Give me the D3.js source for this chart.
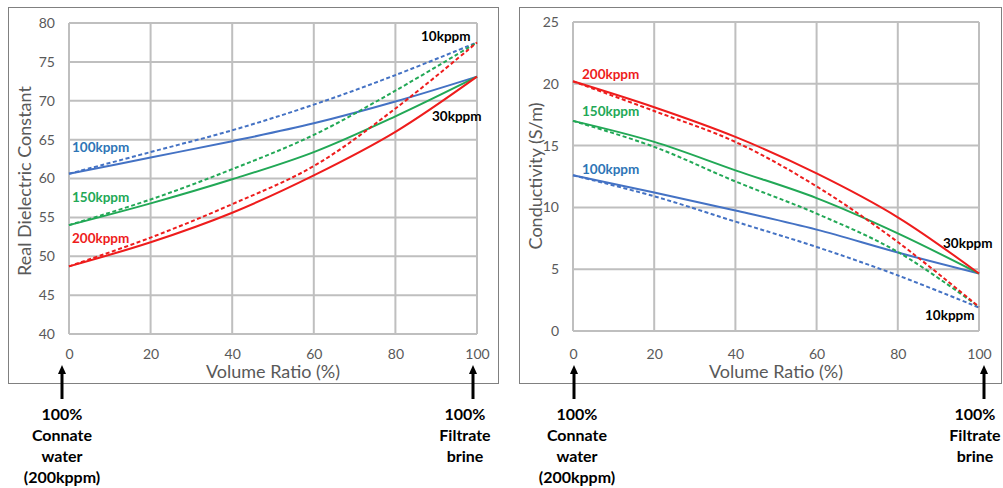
<!DOCTYPE html>
<html><head><meta charset="utf-8">
<script src="https://cdn.jsdelivr.net/npm/d3@7"></script>
<style>body{margin:0;background:#fff}svg{display:block}text{font-family:Lato,"Open Sans",sans-serif}</style>
</head><body><svg id="c" width="1003" height="488"></svg>
<script>
const volumeRatio = [0, 20, 40, 60, 80, 100];
const xTicks = [0, 20, 40, 60, 80, 100];
const dielectricTicks = [40, 45, 50, 55, 60, 65, 70, 75, 80];
const conductivityTicks = [0, 5, 10, 15, 20, 25];
const salinities = ["100kppm", "150kppm", "200kppm"];

// Real dielectric constant: solid -> 30kppm filtrate, dashed -> 10kppm filtrate
const dielectric100_30 = [60.6, 62.7, 64.8, 67.1, 69.9, 73.1];
const dielectric100_10 = [60.6, 63.4, 66.2, 69.5, 73.3, 77.5];
const dielectric150_30 = [54.0, 56.8, 59.9, 63.4, 68.0, 73.1];
const dielectric150_10 = [54.0, 57.3, 61.2, 65.6, 71.3, 77.5];
const dielectric200_30 = [48.7, 51.8, 55.6, 60.4, 66.0, 73.1];
const dielectric200_10 = [48.7, 52.4, 56.7, 61.6, 69.0, 77.5];

// Conductivity (S/m)
const conductivity100_30 = [12.6, 11.2, 9.75, 8.2, 6.35, 4.65];
const conductivity100_10 = [12.6, 10.9, 8.85, 6.8, 4.5, 1.9];
const conductivity150_30 = [17.0, 15.3, 13.0, 10.75, 7.9, 4.65];
const conductivity150_10 = [17.0, 14.9, 12.1, 9.5, 6.4, 1.95];
const conductivity200_30 = [20.2, 18.1, 15.7, 12.75, 9.2, 4.65];
const conductivity200_10 = [20.2, 17.8, 15.3, 11.7, 7.2, 1.95];

const lineColors = {"100kppm": "#4472C4", "150kppm": "#22A856", "200kppm": "#EE1C1C"};
const labelColors = {"100kppm": "#2E75B6", "150kppm": "#22A856", "200kppm": "#EE1C1C"};

const svg = d3.select("#c");

function panel(cfg) {
  const g = svg.append("g");
  g.append("rect").attr("x", cfg.box[0] + 0.5).attr("y", cfg.box[1] + 0.5)
    .attr("width", cfg.box[2] - cfg.box[0]).attr("height", cfg.box[3] - cfg.box[1])
    .attr("fill", "#fff").attr("stroke", "#808080").attr("stroke-width", 1);
  const x = d3.scaleLinear().domain([0, 100]).range([cfg.plot[0], cfg.plot[1]]);
  const y = d3.scaleLinear().domain(cfg.yDomain).range([cfg.plot[3], cfg.plot[2]]);
  // grid
  g.append("g").selectAll("line").data(xTicks).join("line")
    .attr("x1", d => x(d)).attr("x2", d => x(d)).attr("y1", y(cfg.yDomain[0])).attr("y2", y(cfg.yDomain[1]))
    .attr("stroke", "#BFBFBF").attr("stroke-width", 2);
  g.append("g").selectAll("line").data(cfg.yTicks).join("line")
    .attr("y1", d => y(d)).attr("y2", d => y(d)).attr("x1", x(0)).attr("x2", x(100))
    .attr("stroke", "#BFBFBF").attr("stroke-width", 2);
  // axes tick labels
  const xa = g.append("g").attr("transform", `translate(0,${y(cfg.yDomain[0])})`)
    .call(d3.axisBottom(x).tickValues(xTicks).tickSize(0).tickPadding(cfg.xPad));
  const ya = g.append("g").attr("transform", `translate(${x(0)},0)`)
    .call(d3.axisLeft(y).tickValues(cfg.yTicks).tickSize(0).tickPadding(cfg.yPad));
  [xa, ya].forEach(a => {
    a.select(".domain").remove();
    a.selectAll("text").attr("fill", "#595959").style("font-size", "14px").style("font-family", "Lato,sans-serif");
  });
  // axis titles
  g.append("text").attr("x", (x(0) + x(100)) / 2).attr("y", cfg.xTitleY).attr("text-anchor", "middle")
    .attr("fill", "#595959").style("font-size", "18px").text("Volume Ratio (%)");
  g.append("text").attr("transform", `translate(${cfg.yTitleX},${cfg.yTitleY}) rotate(-90)`)
    .attr("text-anchor", "middle").attr("fill", "#595959").style("font-size", "18px").text(cfg.yTitle);
  // lines
  const line = d3.line().x((d, i) => x(volumeRatio[i])).y(d => y(d)).curve(d3.curveCatmullRom.alpha(0.5));
  cfg.series.forEach(s => {
    g.append("path").attr("d", line(s.values)).attr("fill", "none")
      .attr("stroke", lineColors[s.salinity]).attr("stroke-width", 2)
      .attr("stroke-dasharray", s.dashed ? "4,2.5" : null);
  });
  // labels
  cfg.labels.forEach(l => {
    g.append("text").attr("x", l.x).attr("y", l.y).attr("fill", l.color)
      .style("font-size", "13.5px").style("font-weight", "bold").text(l.text);
  });
  // arrows and annotations
  cfg.notes.forEach(n => {
    g.append("line").attr("x1", n.x).attr("x2", n.x).attr("y1", 399).attr("y2", 373)
      .attr("stroke", "#000").attr("stroke-width", 3);
    g.append("path").attr("d", `M${n.x - 4},${374} L${n.x + 4},${374} L${n.x},${365} Z`).attr("fill", "#000");
    n.lines.forEach((t, i) => {
      g.append("text").attr("x", n.tx).attr("y", 420 + i * 21).attr("text-anchor", "middle")
        .attr("fill", "#000").style("font-size", "16px").style("font-weight", "bold").text(t);
    });
  });
}

panel({
  box: [8, 7, 498, 383], plot: [69, 477, 23, 334], yDomain: [40, 80], yTicks: dielectricTicks,
  xPad: 15, yPad: 14, xTitleY: 378, yTitleX: 31, yTitleY: 181, yTitle: "Real Dielectric Constant",
  series: [
    {salinity: "100kppm", dashed: false, values: dielectric100_30},
    {salinity: "100kppm", dashed: true, values: dielectric100_10},
    {salinity: "150kppm", dashed: false, values: dielectric150_30},
    {salinity: "150kppm", dashed: true, values: dielectric150_10},
    {salinity: "200kppm", dashed: false, values: dielectric200_30},
    {salinity: "200kppm", dashed: true, values: dielectric200_10}
  ],
  labels: [
    {text: salinities[0], x: 72, y: 152, color: labelColors["100kppm"]},
    {text: salinities[1], x: 72, y: 202, color: labelColors["150kppm"]},
    {text: salinities[2], x: 72, y: 243, color: labelColors["200kppm"]},
    {text: "10kppm", x: 421, y: 41, color: "#000"},
    {text: "30kppm", x: 432, y: 121, color: "#000"}
  ],
  notes: [
    {x: 62, tx: 62, lines: ["100%", "Connate", "water", "(200kppm)"]},
    {x: 473, tx: 465, lines: ["100%", "Filtrate", "brine"]}
  ]
});

panel({
  box: [519, 7, 1001, 383], plot: [573, 979, 22, 331], yDomain: [0, 25], yTicks: conductivityTicks,
  xPad: 18, yPad: 14, xTitleY: 378, yTitleX: 542, yTitleY: 176, yTitle: "Conductivity (S/m)",
  series: [
    {salinity: "100kppm", dashed: false, values: conductivity100_30},
    {salinity: "100kppm", dashed: true, values: conductivity100_10},
    {salinity: "150kppm", dashed: false, values: conductivity150_30},
    {salinity: "150kppm", dashed: true, values: conductivity150_10},
    {salinity: "200kppm", dashed: false, values: conductivity200_30},
    {salinity: "200kppm", dashed: true, values: conductivity200_10}
  ],
  labels: [
    {text: salinities[2], x: 582, y: 79, color: labelColors["200kppm"]},
    {text: salinities[1], x: 582, y: 116, color: labelColors["150kppm"]},
    {text: salinities[0], x: 582, y: 174, color: labelColors["100kppm"]},
    {text: "30kppm", x: 943, y: 248, color: "#000"},
    {text: "10kppm", x: 925, y: 320, color: "#000"}
  ],
  notes: [
    {x: 574, tx: 577, lines: ["100%", "Connate", "water", "(200kppm)"]},
    {x: 984, tx: 975, lines: ["100%", "Filtrate", "brine"]}
  ]
});
</script></body></html>
